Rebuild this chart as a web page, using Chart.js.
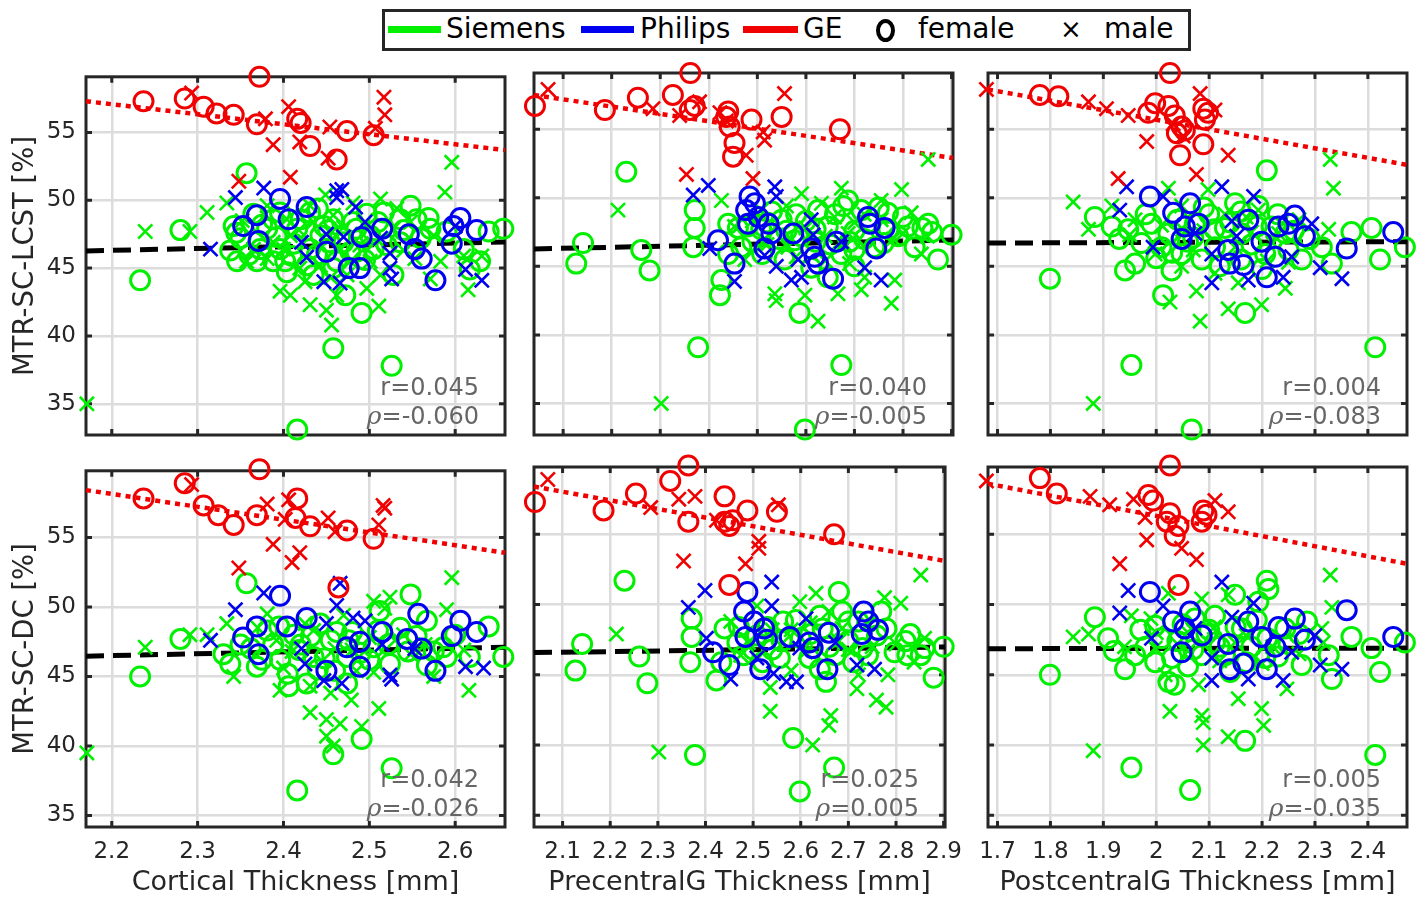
<!DOCTYPE html>
<html>
<head>
<meta charset="utf-8">
<script src="https://cdn.jsdelivr.net/npm/chart.js@4.4.1/dist/chart.umd.min.js"></script>
<style>
  html, body { margin: 0; padding: 0; background: #fff; }
  body { width: 1426px; height: 901px; position: relative; overflow: hidden; font-family: 'DejaVu Sans', sans-serif; color: #000; }
  canvas { position: absolute; }
  #legendBox { position: absolute; left: 382px; top: 9px; width: 809px; height: 42px; border: 3px solid #262626; box-sizing: border-box; background: #fff; }
  .lg-line { position: absolute; top: 26px; height: 7px; }
  .lg-text { position: absolute; top: 11px; font-size: 28px; line-height: 36px; white-space: nowrap; }
  .lg-circle { position: absolute; left: 876px; top: 19px; width: 11px; height: 15px; border: 4px solid #000; border-radius: 50%; }
</style>
</head>
<body>
<div id="legendBox"></div>
<div class="lg-line" style="left:388px;width:53px;background:#00f000"></div>
<div class="lg-text" style="left:446px">Siemens</div>
<div class="lg-line" style="left:581px;width:53px;background:#0000f0"></div>
<div class="lg-text" style="left:640px">Philips</div>
<div class="lg-line" style="left:743px;width:55px;background:#f00000"></div>
<div class="lg-text" style="left:803px">GE</div>
<div class="lg-circle"></div>
<div class="lg-text" style="left:918px">female</div>
<div class="lg-text" style="left:1060px;font-size:26px">×</div>
<div class="lg-text" style="left:1104px">male</div>

<canvas id="c1"></canvas>
<canvas id="c2"></canvas>
<canvas id="c3"></canvas>
<canvas id="c4"></canvas>
<canvas id="c5"></canvas>
<canvas id="c6"></canvas>

<script>
// ---- tick labels ----
const yTicks = [35, 40, 45, 50, 55];
const cortTicks = [2.2, 2.3, 2.4, 2.5, 2.6];
const preTicks = [2.1, 2.2, 2.3, 2.4, 2.5, 2.6, 2.7, 2.8, 2.9];
const postTicks = [1.7, 1.8, 1.9, 2, 2.1, 2.2, 2.3, 2.4];

// ---- correlation labels ----
const rVals = ['0.045', '0.040', '0.004', '0.042', '0.025', '0.005'];
const rhoVals = ['-0.060', '-0.005', '-0.083', '-0.026', '0.005', '-0.035'];

// ---- fit lines: [y at left limit, y at right limit] ----
const geFit = [[57.3, 53.7], [57.5, 52.9], [57.9, 52.4], [58.4, 53.9], [58.4, 53.1], [58.6, 52.9]];
const allFit = [[46.27, 46.92], [46.27, 46.92], [46.7, 46.8], [46.46, 47.1], [46.58, 46.98], [46.86, 46.9]];

// ---- Cortical thickness vs MTR-SC-LCST ----
const p1GeF = [[2.237,57.3],[2.285,57.5],[2.307,56.9],[2.322,56.4],[2.342,56.3],[2.372,59.1],[2.369,55.6],[2.416,56.0],[2.420,55.7],[2.431,54.0],[2.462,53.0],[2.474,55.1],[2.505,54.8]];
const p1GeM = [[2.293,57.9],[2.388,54.1],[2.379,56.0],[2.406,56.9],[2.419,54.3],[2.454,55.4],[2.452,53.1],[2.517,57.6],[2.518,56.3],[2.507,55.3],[2.348,51.4],[2.408,51.7]];
const p1PhF = [[2.396,50.1],[2.427,49.5],[2.369,48.9],[2.406,48.6],[2.353,48.1],[2.371,47.0],[2.450,46.2],[2.476,45.0],[2.489,45.0],[2.515,47.9],[2.546,47.5],[2.553,46.4],[2.561,45.7],[2.577,44.1],[2.596,46.8],[2.606,48.7],[2.598,48.1],[2.625,47.8],[2.491,47.3]];
const p1PhM = [[2.344,50.2],[2.377,50.9],[2.315,46.4],[2.462,50.7],[2.468,50.8],[2.462,50.2],[2.450,47.5],[2.470,47.3],[2.484,49.5],[2.495,48.4],[2.421,46.9],[2.427,45.8],[2.447,44.0],[2.466,43.9],[2.513,47.2],[2.524,46.1],[2.524,45.0],[2.526,44.2],[2.600,48.1],[2.612,44.9],[2.631,44.1]];
const p1SiF = [[2.233,44.1],[2.280,47.8],[2.357,52.0],[2.338,46.3],[2.342,48.1],[2.369,45.5],[2.404,44.7],[2.458,39.1],[2.526,37.8],[2.416,33.1],[2.491,41.7],[2.472,43.0],[2.548,49.6],[2.569,48.7],[2.656,47.9],[2.639,47.7],[2.617,44.9],[2.528,44.5],[2.505,46.4],[2.431,49.1],[2.439,46.0],[2.381,47.9],[2.396,46.4],[2.416,47.9],[2.458,48.6],[2.481,48.4],[2.427,45.2],[2.462,45.5],[2.485,46.2],[2.536,48.6],[2.571,47.9],[2.590,47.7],[2.388,48.6],[2.443,47.4],[2.497,49.0],[2.517,49.1],[2.629,45.5],[2.402,45.5],[2.454,46.9],[2.373,46.4],[2.350,47.2],[2.365,49.0],[2.396,49.1],[2.412,46.8],[2.431,46.4],[2.447,48.1],[2.458,45.0],[2.470,46.9],[2.485,47.9],[2.501,47.4],[2.536,46.9],[2.555,48.6],[2.610,46.4],[2.435,44.5],[2.388,45.5],[2.346,45.5],[2.345,47.6],[2.360,46.0],[2.375,48.2],[2.392,47.3],[2.420,48.6],[2.440,49.4],[2.452,47.8],[2.466,47.3],[2.478,46.2],[2.495,45.6],[2.510,48.4],[2.520,46.7],[2.540,47.8],[2.560,47.2],[2.410,45.9]];
const p1SiM = [[2.171,35.0],[2.239,47.7],[2.311,49.1],[2.334,49.8],[2.596,52.8],[2.588,50.6],[2.631,45.9],[2.615,43.4],[2.396,43.3],[2.408,43.0],[2.431,42.3],[2.450,41.9],[2.456,40.8],[2.511,42.2],[2.462,43.0],[2.449,50.4],[2.481,49.8],[2.513,50.1],[2.532,49.4],[2.357,45.5],[2.381,45.7],[2.419,45.0],[2.474,44.5],[2.497,43.5],[2.501,45.5],[2.553,45.7],[2.571,44.2],[2.548,48.4],[2.575,47.4],[2.610,45.9],[2.435,48.4],[2.408,47.4],[2.466,46.4],[2.381,49.6],[2.291,47.7],[2.365,46.4],[2.404,48.6],[2.431,49.6],[2.458,48.9],[2.489,46.7],[2.528,47.9],[2.513,44.5],[2.443,45.2],[2.400,46.4],[2.478,45.5],[2.583,45.5],[2.352,48.5],[2.388,46.9],[2.418,47.8],[2.440,46.7],[2.470,48.0],[2.492,47.5],[2.505,46.8],[2.540,46.3],[2.425,44.0],[2.455,44.3]];

// ---- PrecentralG thickness vs MTR-SC-LCST ----
const p2GeF = [[2.042,56.7],[2.186,56.4],[2.254,57.3],[2.326,57.5],[2.362,59.1],[2.361,56.4],[2.371,56.7],[2.440,56.3],[2.443,55.2],[2.453,54.0],[2.450,53.0],[2.488,55.7],[2.550,55.9],[2.670,55.0],[2.436,55.9]];
const p2GeM = [[2.069,57.9],[2.285,56.5],[2.340,56.0],[2.381,57.0],[2.423,56.2],[2.436,55.6],[2.477,53.1],[2.515,54.2],[2.512,54.8],[2.556,57.6],[2.354,51.7],[2.491,51.4]];
const p2PhF = [[2.484,50.1],[2.495,49.6],[2.477,49.1],[2.502,48.6],[2.523,48.1],[2.529,47.4],[2.481,48.1],[2.419,46.9],[2.453,45.2],[2.515,46.3],[2.574,47.4],[2.618,45.7],[2.625,45.2],[2.656,44.1],[2.663,46.8],[2.728,48.6],[2.732,48.1],[2.762,47.8],[2.745,46.3],[2.611,46.3]];
const p2PhM = [[2.368,50.2],[2.399,50.9],[2.536,50.8],[2.539,50.1],[2.611,48.4],[2.615,47.3],[2.453,43.9],[2.539,45.0],[2.570,44.0],[2.591,44.2],[2.584,45.5],[2.673,46.8],[2.721,44.9],[2.755,44.0],[2.402,46.3],[2.515,45.8]];
const p2SiF = [[2.230,51.9],[2.141,46.7],[2.127,45.2],[2.261,46.2],[2.278,44.7],[2.378,39.1],[2.598,33.1],[2.673,37.8],[2.587,41.6],[2.371,49.1],[2.371,47.8],[2.368,46.4],[2.423,42.9],[2.426,44.0],[2.440,48.1],[2.467,46.4],[2.550,48.4],[2.577,46.9],[2.625,49.1],[2.677,49.4],[2.687,49.8],[2.714,49.1],[2.769,48.9],[2.852,48.1],[2.872,45.5],[2.900,47.3],[2.700,45.0],[2.645,44.2],[2.611,44.9],[2.508,47.7],[2.645,47.9],[2.790,47.2],[2.824,46.4],[2.673,45.9],[2.556,45.5],[2.440,45.9],[2.741,46.4],[2.460,47.8],[2.530,49.0],[2.600,48.3],[2.700,47.6],[2.750,49.3],[2.800,48.6],[2.840,47.8],[2.650,46.6],[2.590,47.2],[2.490,46.8],[2.720,47.0],[2.560,47.6],[2.480,47.9],[2.520,48.2],[2.545,47.0],[2.580,48.8],[2.620,47.7],[2.660,48.8],[2.690,46.8],[2.730,48.2],[2.770,47.7],[2.810,47.9],[2.860,47.5],[2.510,45.9],[2.620,46.8],[2.700,46.2],[2.760,46.7]];
const p2SiM = [[2.213,49.1],[2.302,35.0],[2.852,52.8],[2.426,49.8],[2.591,50.3],[2.673,50.7],[2.797,50.6],[2.776,42.3],[2.625,41.0],[2.598,42.9],[2.539,42.5],[2.536,43.0],[2.666,43.0],[2.714,43.3],[2.783,44.0],[2.632,49.6],[2.755,49.8],[2.817,48.9],[2.838,45.9],[2.721,44.2],[2.474,45.5],[2.563,46.4],[2.687,47.4],[2.755,48.4],[2.508,49.1],[2.659,48.6],[2.453,47.9],[2.600,47.8],[2.700,48.2],[2.640,45.4],[2.780,47.0],[2.520,46.6],[2.490,48.3],[2.560,49.4],[2.640,47.2],[2.720,48.8],[2.800,47.4],[2.580,45.7],[2.690,45.2],[2.850,47.2]];

// ---- PostcentralG thickness vs MTR-SC-LCST ----
const p3GeF = [[1.780,57.5],[1.815,57.4],[1.998,56.9],[1.985,56.2],[2.023,56.7],[2.026,59.1],[2.035,56.0],[2.048,55.2],[2.054,54.9],[2.039,54.7],[2.045,53.1],[2.089,53.9],[2.092,55.7],[2.089,56.5],[2.098,56.2]];
const p3GeM = [[1.679,57.9],[1.872,57.0],[1.906,56.5],[1.947,56.0],[1.982,54.1],[2.032,55.4],[2.051,54.5],[2.083,57.6],[2.111,56.4],[2.136,53.1],[1.928,51.4],[2.076,51.7]];
const p3PhF = [[1.988,50.1],[2.032,48.9],[2.064,49.6],[2.054,47.9],[2.080,48.1],[2.048,47.0],[2.136,46.2],[2.139,45.2],[2.165,45.1],[2.174,48.4],[2.199,46.8],[2.209,44.2],[2.225,45.7],[2.231,47.9],[2.250,48.1],[2.262,48.7],[2.281,47.2],[2.360,46.3],[2.448,47.5]];
const p3PhM = [[1.944,50.8],[1.931,49.1],[2.013,50.1],[2.124,50.8],[2.184,50.1],[1.994,46.4],[2.073,47.4],[2.105,45.9],[2.105,43.8],[2.143,48.3],[2.152,47.2],[2.174,44.0],[2.240,44.2],[2.256,45.7],[2.310,44.9],[2.351,44.1],[2.294,48.1]];
const p3SiF = [[2.209,52.0],[1.799,44.1],[1.953,37.8],[2.067,33.1],[2.414,39.1],[2.168,41.6],[2.013,42.9],[1.884,48.6],[1.916,47.9],[1.947,47.7],[1.941,44.7],[1.960,45.2],[1.991,48.1],[2.023,47.4],[2.029,44.7],[2.073,48.1],[2.111,46.4],[2.149,49.6],[2.193,49.4],[2.218,47.9],[2.275,45.5],[2.332,45.2],[2.369,47.5],[2.407,47.8],[2.423,45.5],[2.470,46.4],[2.313,46.4],[2.086,45.5],[2.048,45.9],[1.972,46.7],[2.162,47.4],[2.244,47.4],[2.206,45.9],[2.100,48.8],[2.130,47.8],[2.180,46.6],[2.060,46.8],[2.250,46.2],[2.000,45.6],[2.120,45.0],[2.290,47.0],[1.930,47.0],[1.980,48.8],[2.010,46.4],[2.040,48.4],[2.070,47.1],[2.090,49.3],[2.140,48.2],[2.160,45.5],[2.190,47.9],[2.230,48.8],[2.260,47.6],[2.030,46.0],[2.110,47.7],[2.200,44.8],[2.160,49.0]];
const p3SiM = [[1.843,49.7],[1.881,35.0],[2.329,52.8],[2.335,50.7],[2.083,41.0],[2.026,42.4],[2.076,43.2],[2.136,41.9],[2.199,42.2],[2.244,43.4],[2.023,50.7],[2.098,50.6],[1.872,47.7],[1.916,49.4],[1.998,45.9],[2.048,45.0],[2.149,46.4],[2.111,44.5],[2.193,49.1],[2.231,47.4],[2.326,47.7],[2.155,43.8],[2.048,49.4],[2.090,47.6],[2.170,48.6],[2.210,45.4],[1.960,48.4],[2.270,48.4],[1.950,47.3],[2.010,48.0],[2.070,46.2],[2.130,48.8],[2.180,47.5],[2.220,46.7],[2.050,47.7],[2.250,45.3]];

// ---- Cortical thickness vs MTR-SC-DC ----
const p4GeF = [[2.237,57.8],[2.285,58.9],[2.372,59.9],[2.307,57.3],[2.324,56.6],[2.342,55.9],[2.369,56.6],[2.416,57.8],[2.414,56.4],[2.431,55.8],[2.474,55.5],[2.505,54.9],[2.464,51.4]];
const p4GeM = [[2.293,58.8],[2.381,57.4],[2.406,57.7],[2.402,56.3],[2.388,54.5],[2.419,53.9],[2.410,53.2],[2.452,56.4],[2.460,55.4],[2.516,57.3],[2.518,57.1],[2.511,55.9],[2.348,52.8]];
const p4PhF = [[2.396,50.8],[2.369,48.6],[2.353,47.8],[2.371,46.6],[2.404,48.6],[2.427,49.2],[2.450,45.4],[2.474,47.1],[2.489,47.5],[2.489,45.7],[2.515,48.2],[2.544,47.7],[2.557,49.5],[2.561,47.0],[2.577,45.4],[2.596,47.9],[2.606,49.0],[2.625,48.2]];
const p4PhM = [[2.344,49.8],[2.377,51.0],[2.315,47.6],[2.462,50.1],[2.466,51.7],[2.450,48.8],[2.481,49.2],[2.495,49.0],[2.421,47.0],[2.425,45.9],[2.447,44.7],[2.468,44.5],[2.515,47.3],[2.524,45.1],[2.526,44.8],[2.553,47.0],[2.612,45.7],[2.633,45.6]];
const p4SiF = [[2.233,45.0],[2.280,47.7],[2.357,51.7],[2.458,39.4],[2.491,40.5],[2.526,38.4],[2.416,36.8],[2.406,44.3],[2.548,50.9],[2.639,48.6],[2.656,46.4],[2.617,46.4],[2.567,45.8],[2.338,45.9],[2.369,45.7],[2.396,46.2],[2.435,46.4],[2.381,48.3],[2.412,48.0],[2.443,48.8],[2.474,46.4],[2.505,47.1],[2.524,45.9],[2.536,48.5],[2.586,47.1],[2.590,46.4],[2.427,44.5],[2.474,44.5],[2.512,49.7],[2.567,49.0],[2.330,46.6],[2.388,47.3],[2.420,47.3],[2.455,47.6],[2.480,48.2],[2.500,46.2],[2.545,46.8],[2.600,48.0],[2.440,45.5],[2.362,47.0],[2.350,47.3],[2.375,46.2],[2.395,48.6],[2.418,46.9],[2.432,47.9],[2.448,46.3],[2.462,48.2],[2.476,47.6],[2.490,46.7],[2.510,48.3],[2.522,47.3],[2.555,47.9],[2.575,46.8],[2.405,45.2],[2.460,45.4]];
const p4SiM = [[2.171,39.5],[2.239,47.1],[2.311,48.0],[2.334,48.8],[2.596,52.1],[2.590,49.8],[2.616,44.0],[2.396,44.0],[2.431,42.4],[2.450,41.9],[2.466,41.6],[2.450,40.7],[2.458,40.0],[2.511,42.7],[2.491,41.4],[2.479,43.3],[2.505,50.4],[2.524,50.7],[2.518,49.9],[2.342,45.0],[2.575,45.0],[2.431,44.3],[2.435,48.3],[2.485,45.4],[2.548,46.6],[2.610,46.9],[2.381,49.5],[2.291,48.0],[2.410,46.8],[2.460,47.0],[2.530,47.6],[2.470,49.4],[2.400,45.6],[2.370,48.5],[2.392,47.6],[2.425,48.8],[2.445,46.1],[2.480,46.9],[2.500,47.8],[2.540,48.0],[2.565,47.3],[2.455,43.8],[2.505,45.3]];

// ---- PrecentralG thickness vs MTR-SC-DC ----
const p5GeF = [[2.042,57.3],[2.186,56.7],[2.254,57.9],[2.326,58.8],[2.364,59.9],[2.364,55.9],[2.440,57.7],[2.440,55.9],[2.450,55.6],[2.457,56.0],[2.488,56.7],[2.550,56.6],[2.670,55.0],[2.450,51.4]];
const p5GeM = [[2.069,58.9],[2.285,56.9],[2.344,57.5],[2.378,57.7],[2.423,56.0],[2.512,54.5],[2.512,54.0],[2.484,52.9],[2.354,53.1],[2.553,57.1]];
const p5PhF = [[2.488,50.9],[2.481,49.5],[2.502,48.8],[2.523,48.3],[2.484,47.7],[2.416,46.6],[2.450,45.7],[2.515,45.4],[2.529,47.5],[2.577,47.7],[2.618,47.3],[2.625,46.9],[2.659,48.0],[2.656,45.4],[2.732,49.5],[2.742,48.8],[2.762,48.2],[2.728,47.9]];
const p5PhM = [[2.364,49.8],[2.399,51.0],[2.539,51.6],[2.539,49.9],[2.402,47.6],[2.453,44.7],[2.543,45.1],[2.570,44.5],[2.591,44.5],[2.611,49.0],[2.598,46.9],[2.673,47.3],[2.718,45.7],[2.755,45.4],[2.508,46.2]];
const p5SiF = [[2.230,51.7],[2.141,47.2],[2.127,45.3],[2.261,46.3],[2.278,44.4],[2.378,39.3],[2.598,36.7],[2.670,38.4],[2.584,40.5],[2.371,49.0],[2.371,47.7],[2.368,45.9],[2.423,44.6],[2.440,48.3],[2.467,47.3],[2.563,48.8],[2.680,50.9],[2.687,49.5],[2.721,48.8],[2.769,49.5],[2.852,46.4],[2.879,44.8],[2.900,47.0],[2.824,46.4],[2.653,44.5],[2.618,46.2],[2.508,47.8],[2.646,48.3],[2.797,46.6],[2.673,46.4],[2.556,46.2],[2.433,45.9],[2.741,46.4],[2.600,47.6],[2.700,47.4],[2.760,47.8],[2.540,46.8],[2.480,46.4],[2.640,49.2],[2.820,47.4],[2.470,48.4],[2.500,46.8],[2.530,48.4],[2.560,47.4],[2.590,48.9],[2.620,47.9],[2.660,47.0],[2.700,48.8],[2.730,46.9],[2.780,48.3],[2.830,47.9],[2.860,46.9],[2.520,45.9],[2.640,45.4],[2.710,45.9]];
const p5SiM = [[2.213,47.9],[2.302,39.5],[2.852,52.1],[2.632,50.8],[2.598,50.2],[2.776,50.5],[2.810,50.1],[2.536,42.4],[2.663,42.1],[2.659,41.4],[2.625,40.0],[2.759,43.2],[2.779,42.7],[2.718,44.0],[2.536,44.1],[2.783,45.0],[2.474,46.4],[2.563,47.3],[2.687,48.3],[2.508,49.9],[2.659,49.5],[2.453,48.8],[2.838,45.9],[2.721,45.0],[2.610,46.6],[2.700,46.8],[2.580,48.2],[2.750,47.0],[2.490,47.3],[2.540,48.2],[2.620,48.7],[2.680,47.4],[2.740,48.6],[2.800,47.2],[2.580,45.3],[2.860,47.6]];

// ---- PostcentralG thickness vs MTR-SC-DC ----
const p6GeF = [[1.780,59.0],[1.812,57.9],[2.026,59.9],[1.985,57.8],[1.994,57.4],[2.026,56.5],[2.020,55.9],[2.042,55.6],[2.035,54.9],[2.086,55.9],[2.089,56.7],[2.095,56.4],[2.042,51.4]];
const p6GeM = [[1.679,58.8],[1.875,57.7],[1.912,57.1],[1.957,57.5],[1.979,56.2],[1.982,54.6],[2.048,54.0],[2.076,53.2],[2.111,57.4],[2.136,56.6],[1.931,52.9]];
const p6PhF = [[1.988,50.9],[2.032,48.8],[2.064,49.5],[2.054,48.3],[2.086,47.8],[2.048,46.6],[2.136,47.2],[2.139,45.4],[2.165,45.8],[2.174,48.8],[2.199,47.7],[2.209,45.4],[2.225,47.0],[2.231,48.4],[2.262,49.0],[2.281,47.5],[2.360,49.6],[2.448,47.7]];
const p6PhM = [[1.947,51.0],[1.931,49.4],[2.013,49.9],[2.124,51.6],[2.184,50.1],[1.991,47.6],[2.073,48.3],[2.105,46.2],[2.105,44.6],[2.143,49.1],[2.174,44.7],[2.240,44.6],[2.256,46.6],[2.310,45.7],[2.351,45.4],[2.300,47.8]];
const p6SiF = [[2.209,51.7],[2.212,51.1],[1.799,45.0],[1.953,38.4],[2.064,36.8],[2.414,39.3],[2.168,40.3],[1.884,49.1],[1.909,47.6],[1.941,45.4],[1.960,46.4],[1.998,48.5],[2.023,44.5],[2.035,44.3],[2.073,49.0],[2.111,47.3],[2.149,50.7],[2.193,50.2],[2.275,45.7],[2.332,44.7],[2.369,47.7],[2.407,46.9],[2.423,45.2],[2.470,47.3],[2.326,46.4],[2.086,46.4],[1.998,45.9],[2.162,48.3],[2.244,48.3],[2.206,46.2],[2.285,48.8],[2.111,49.2],[2.040,47.4],[2.130,46.4],[2.180,47.0],[2.060,45.6],[2.250,47.2],[1.980,47.0],[2.100,48.2],[1.920,46.7],[1.970,48.2],[2.010,47.6],[2.050,48.6],[2.070,46.8],[2.095,47.9],[2.120,47.0],[2.150,48.4],[2.170,45.9],[2.210,47.6],[2.230,46.3],[2.270,47.9],[2.030,46.2],[2.140,45.2],[2.190,48.9]];
const p6SiM = [[1.843,47.7],[1.881,39.6],[2.329,52.1],[2.332,49.8],[2.026,42.4],[2.086,42.1],[2.089,41.6],[2.089,40.0],[2.136,40.6],[2.155,43.3],[2.199,42.6],[2.203,41.4],[2.247,44.0],[2.023,50.8],[2.086,50.4],[2.136,50.7],[1.872,47.9],[1.953,49.2],[1.998,46.9],[2.080,44.3],[2.149,47.3],[2.313,48.3],[2.316,47.3],[2.017,45.0],[2.060,48.0],[2.200,45.8],[2.120,46.0],[1.990,49.0],[1.940,47.0],[2.000,48.0],[2.060,46.7],[2.110,48.4],[2.170,47.8],[2.220,47.0],[2.270,46.5],[2.040,47.2]];

const GREEN = '#00f000', BLUE = '#0000f0', RED = '#f00000';
const FRAME = '#262626';
const FONT = "'DejaVu Sans', sans-serif";

// layout of the 2x3 grid (pixel boxes of each axes)
const panels = [
  { id: 'c1', left: 86,  top: 73,  right: 505,  bottom: 435, xr: [2.170, 2.658], yr: [32.7, 59.1], xt: cortTicks, showX: false, showY: true,  yTitle: 'MTR-SC-LCST [%]', sets: [p1SiF, p1SiM, p1PhF, p1PhM, p1GeF, p1GeM] },
  { id: 'c2', left: 534, top: 73,  right: 953,  bottom: 435, xr: [2.040, 2.903], yr: [32.7, 59.1], xt: preTicks,  showX: false, showY: false, sets: [p2SiF, p2SiM, p2PhF, p2PhM, p2GeF, p2GeM] },
  { id: 'c3', left: 988, top: 73,  right: 1407, bottom: 435, xr: [1.682, 2.474], yr: [32.7, 59.1], xt: postTicks, showX: false, showY: false, sets: [p3SiF, p3SiM, p3PhF, p3PhM, p3GeF, p3GeM] },
  { id: 'c4', left: 86,  top: 467, right: 505,  bottom: 827, xr: [2.170, 2.658], yr: [34.17, 59.79], xt: cortTicks, showX: true, showY: true, yTitle: 'MTR-SC-DC [%]', xTitle: 'Cortical Thickness [mm]', sets: [p4SiF, p4SiM, p4PhF, p4PhM, p4GeF, p4GeM] },
  { id: 'c5', left: 534, top: 467, right: 953,  bottom: 827, xr: [2.040, 2.903], yr: [34.17, 59.79], xt: preTicks,  showX: true, showY: false, xTitle: 'PrecentralG Thickness [mm]', sets: [p5SiF, p5SiM, p5PhF, p5PhM, p5GeF, p5GeM] },
  { id: 'c6', left: 988, top: 467, right: 1407, bottom: 827, xr: [1.682, 2.474], yr: [34.17, 59.79], xt: postTicks, showX: true, showY: false, xTitle: 'PostcentralG Thickness [mm]', sets: [p6SiF, p6SiM, p6PhF, p6PhM, p6GeF, p6GeM] }
];

const AXIS_W = 86, AXIS_H = 72, PAD = 20;

function markers(arr, color, female, order) {
  return {
    data: arr.map(([x, y]) => ({ x, y })),
    pointStyle: female ? 'circle' : 'crossRot',
    pointRadius: female ? 9.5 : 10,
    pointBorderWidth: female ? 3 : 2.6,
    pointBorderColor: color,
    pointBackgroundColor: 'rgba(0,0,0,0)',
    borderColor: color,
    backgroundColor: 'rgba(0,0,0,0)',
    showLine: false,
    clip: false,
    order
  };
}

function fitLine(xr, ys, color, width, dash) {
  return {
    data: [{ x: xr[0], y: ys[0] }, { x: xr[1], y: ys[1] }],
    showLine: true,
    pointRadius: 0,
    borderColor: color,
    borderWidth: width,
    borderDash: dash,
    borderCapStyle: 'butt',
    clip: false,
    order: 10
  };
}

// box, inner tick marks (drawn under the markers)
const framePlugin = {
  id: 'frame',
  beforeDatasetsDraw(chart) {
    const { ctx, chartArea: a, scales: { x, y } } = chart;
    const len = 6;
    ctx.save();
    ctx.strokeStyle = FRAME;
    ctx.lineWidth = 3;
    ctx.beginPath();
    x.ticks.forEach(t => {
      const px = x.getPixelForValue(t.value);
      ctx.moveTo(px, a.bottom); ctx.lineTo(px, a.bottom - len);
      ctx.moveTo(px, a.top); ctx.lineTo(px, a.top + len);
    });
    y.ticks.forEach(t => {
      const py = y.getPixelForValue(t.value);
      ctx.moveTo(a.left, py); ctx.lineTo(a.left + len, py);
      ctx.moveTo(a.right, py); ctx.lineTo(a.right - len, py);
    });
    ctx.stroke();
    ctx.strokeRect(a.left, a.top, a.right - a.left, a.bottom - a.top);
    ctx.restore();
  }
};

// r / rho annotation in the lower right corner
const statsPlugin = {
  id: 'stats',
  afterDatasetsDraw(chart, args, opts) {
    const { ctx, chartArea: a } = chart;
    const xr = a.right - 26;
    ctx.save();
    ctx.fillStyle = '#666666';
    ctx.textAlign = 'right';
    ctx.textBaseline = 'alphabetic';
    ctx.font = '24px ' + FONT;
    ctx.fillText('r=' + opts.r, xr, a.bottom - 40);
    const rest = '=' + opts.rho;
    ctx.fillText(rest, xr, a.bottom - 11);
    const w = ctx.measureText(rest).width;
    ctx.font = "italic 25px 'DejaVu Serif', serif";
    ctx.fillText('\u03c1', xr - w, a.bottom - 11);
    ctx.restore();
  }
};

panels.forEach((p, i) => {
  const cv = document.getElementById(p.id);
  const w = (p.right - p.left) + AXIS_W + PAD;
  const h = (p.bottom - p.top) + PAD + AXIS_H;
  cv.width = w; cv.height = h;
  cv.style.left = (p.left - AXIS_W) + 'px';
  cv.style.top = (p.top - PAD) + 'px';
  cv.style.width = w + 'px';
  cv.style.height = h + 'px';

  const [siF, siM, phF, phM, geF, geM] = p.sets;
  const datasets = [
    markers(geF, RED, true, 1), markers(geM, RED, false, 1),
    markers(phF, BLUE, true, 2), markers(phM, BLUE, false, 2),
    markers(siF, GREEN, true, 3), markers(siM, GREEN, false, 3),
    fitLine(p.xr, geFit[i], RED, 4.5, [5, 5]),
    fitLine(p.xr, allFit[i], '#000000', 5, [18, 9])
  ];

  new Chart(cv, {
    type: 'scatter',
    data: { datasets },
    plugins: [framePlugin, statsPlugin],
    options: {
      responsive: false,
      animation: false,
      devicePixelRatio: 1,
      events: [],
      layout: { padding: { left: 0, top: PAD, right: PAD, bottom: 0 } },
      plugins: {
        legend: { display: false },
        tooltip: { enabled: false },
        stats: { r: rVals[i], rho: rhoVals[i] }
      },
      scales: {
        x: {
          type: 'linear',
          min: p.xr[0], max: p.xr[1],
          afterBuildTicks: s => { s.ticks = p.xt.map(v => ({ value: v })); },
          afterFit: s => { s.height = AXIS_H; },
          grid: { color: '#dcdcdc', lineWidth: 2.5, drawTicks: false },
          border: { display: false },
          ticks: {
            display: p.showX, padding: 11, autoSkip: false, maxRotation: 0,
            color: FRAME, font: { family: FONT, size: 23 },
            callback: v => String(v)
          },
          title: {
            display: !!p.xTitle, text: p.xTitle || '', color: FRAME,
            font: { family: FONT, size: 27 }, padding: { top: 0, bottom: 0 }
          }
        },
        y: {
          type: 'linear',
          min: p.yr[0], max: p.yr[1],
          afterBuildTicks: s => { s.ticks = yTicks.map(v => ({ value: v })); },
          afterFit: s => { s.width = AXIS_W; },
          grid: { color: '#dcdcdc', lineWidth: 2.5, drawTicks: false },
          border: { display: false },
          ticks: {
            display: p.showY, padding: 10,
            color: FRAME, font: { family: FONT, size: 23 },
            callback: v => String(v)
          },
          title: {
            display: !!p.yTitle, text: p.yTitle || '', color: FRAME,
            font: { family: FONT, size: 27.5 }, padding: { top: 9, bottom: 0 }
          }
        }
      }
    }
  });
});
</script>
</body>
</html>
